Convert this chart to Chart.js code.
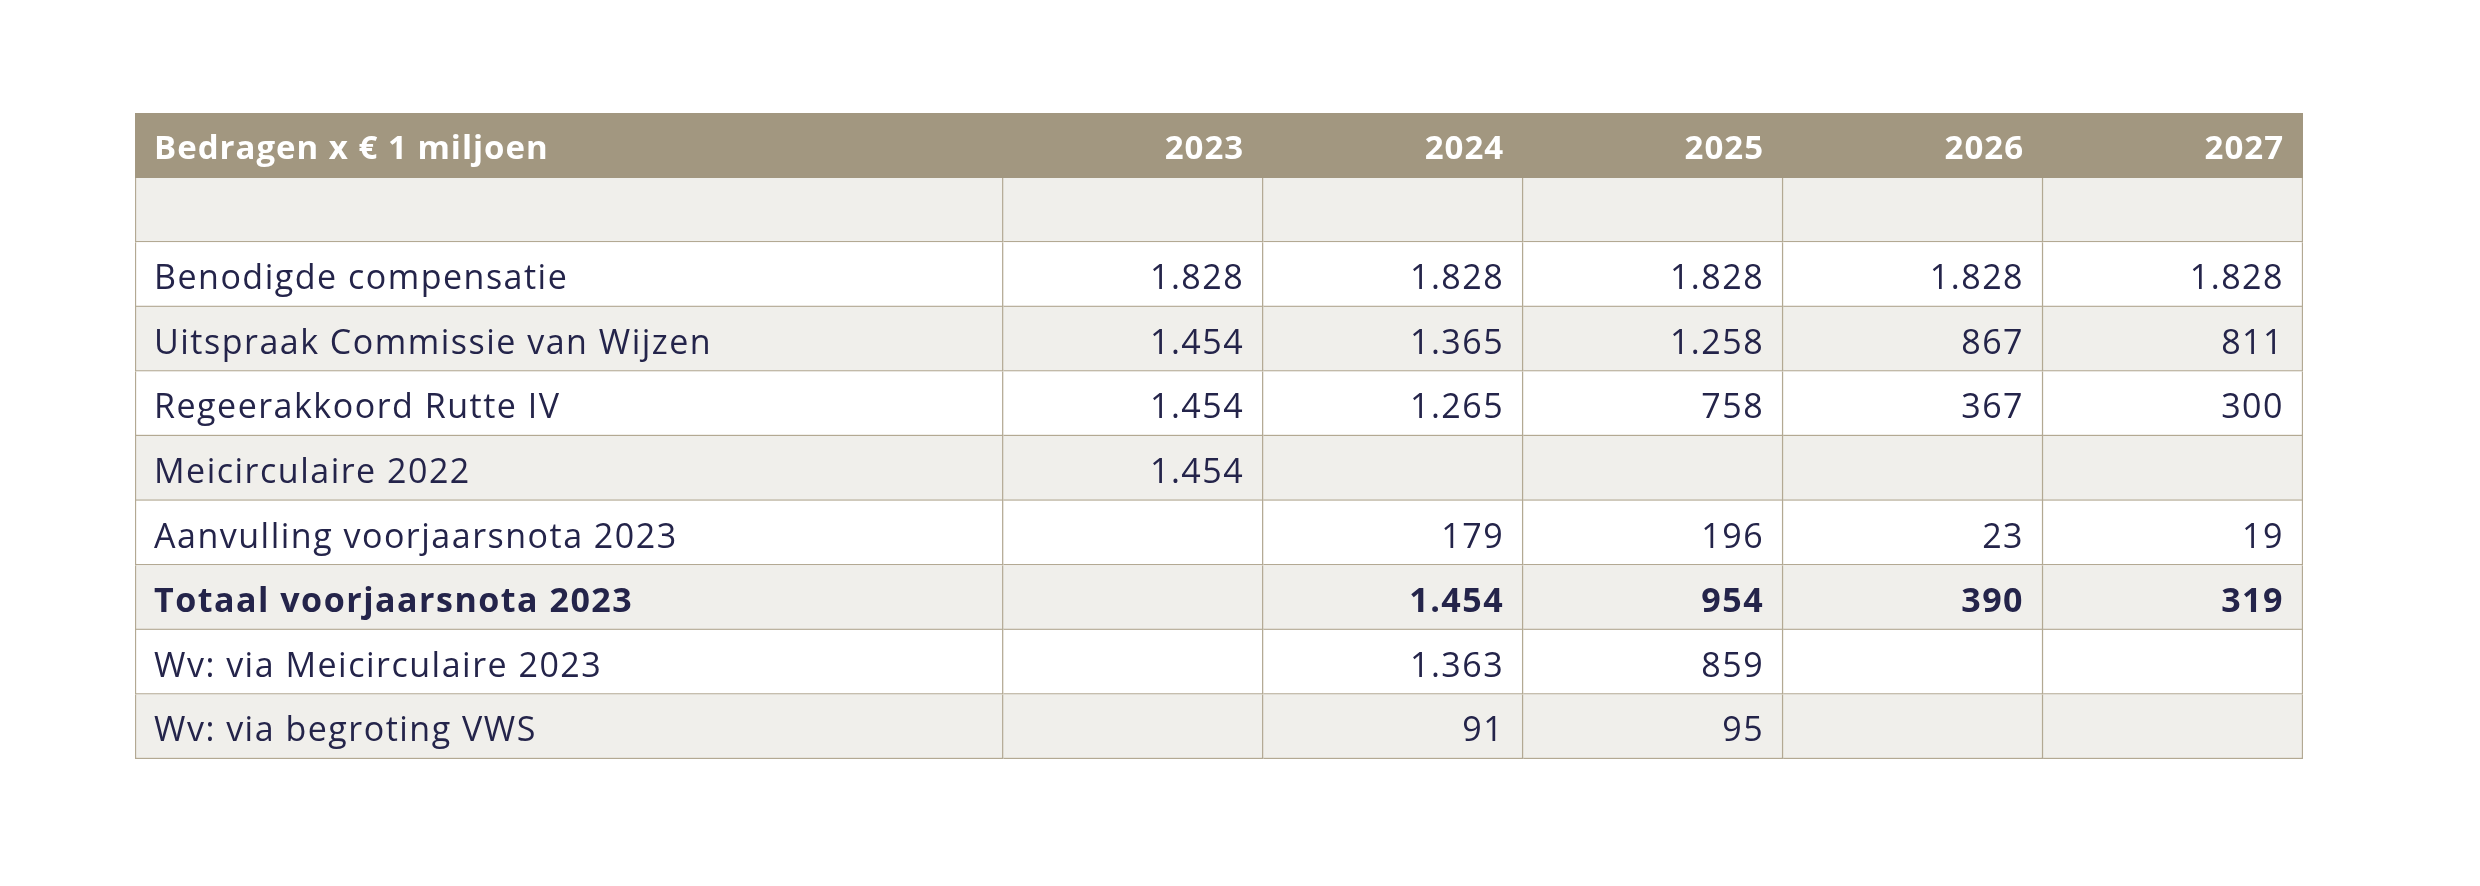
<!DOCTYPE html>
<html>
<head>
<meta charset="utf-8">
<script src="https://cdn.jsdelivr.net/npm/chart.js@4.4.0/dist/chart.umd.min.js"></script>
<style>
  html, body { margin: 0; padding: 0; background: #fff; }
  #wrap { width: 2480px; height: 886px; }
</style>
</head>
<body>
<div id="wrap"><canvas id="chart" width="2480" height="886"></canvas></div>
<script>
// Table data (amounts x EUR 1 million)
const title = 'Bedragen x € 1 miljoen';
const years = ['2023', '2024', '2025', '2026', '2027'];
const rowLabels = [
  '',
  'Benodigde compensatie',
  'Uitspraak Commissie van Wijzen',
  'Regeerakkoord Rutte IV',
  'Meicirculaire 2022',
  'Aanvulling voorjaarsnota 2023',
  'Totaal voorjaarsnota 2023',
  'Wv: via Meicirculaire 2023',
  'Wv: via begroting VWS'
];
const blankRow = [null, null, null, null, null];
const benodigde = [1828, 1828, 1828, 1828, 1828];
const uitspraak = [1454, 1365, 1258, 867, 811];
const regeerakkoord = [1454, 1265, 758, 367, 300];
const meicirculaire2022 = [1454, null, null, null, null];
const aanvulling = [null, 179, 196, 23, 19];
const totaal = [null, 1454, 954, 390, 319];
const wvMeicirculaire = [null, 1363, 859, null, null];
const wvBegroting = [null, 91, 95, null, null];
const rowValues = [blankRow, benodigde, uitspraak, regeerakkoord, meicirculaire2022,
  aanvulling, totaal, wvMeicirculaire, wvBegroting];
const boldRow = 'Totaal voorjaarsnota 2023';

// styling
const headerColor = '#a29780';
const stripeColor = '#f0efeb';
const lineColor = '#b3a993';
const textColor = '#24244a';
const fontFamily = '"Open Sans", sans-serif';
const fontSize = 34;
const headerFontSize = 33;
const lineWidth = 1.5;
const labelColWidth = 3.34; // width of first column, in year-column units

// y categories: header + table rows
const categories = [title].concat(rowLabels.map((l, i) => l || ' '.repeat(i + 1)));

function rowColor(i) {
  if (i === 0) return headerColor;
  return i % 2 === 1 ? stripeColor : '#ffffff';
}

function fmt(v) {
  return String(v).replace(/\B(?=(\d{3})+(?!\d))/g, '.');
}

// one dataset per column; every cell is a floating bar
const datasets = [];
datasets.push({
  label: 'header',
  data: categories.map((c, i) => i === 0 ? [-labelColWidth, years.length] : null),
  backgroundColor: headerColor,
  borderWidth: 0
});
datasets.push({
  label: 'labels',
  data: categories.map((c, i) => i === 0 ? null : [-labelColWidth, 0]),
  backgroundColor: ctx => rowColor(ctx.dataIndex),
  borderColor: lineColor,
  borderWidth: { top: 0, left: lineWidth, right: lineWidth, bottom: lineWidth }
});
years.forEach((yr, j) => {
  datasets.push({
    label: yr,
    data: categories.map((c, i) => i === 0 ? null : [j, j + 1]),
    backgroundColor: ctx => rowColor(ctx.dataIndex),
    borderColor: lineColor,
    borderWidth: { top: 0, left: 0, right: lineWidth, bottom: lineWidth }
  });
});
datasets.forEach(d => {
  d.grouped = false;
  d.barPercentage = 1;
  d.categoryPercentage = 1;
  d.borderSkipped = false;
});

// draws header texts and cell values on top of the bars
const cellText = {
  id: 'cellText',
  afterDatasetsDraw(chart) {
    const { ctx, scales: { x, y } } = chart;
    const left = x.getPixelForValue(-labelColWidth);
    ctx.save();
    // header
    let cy = y.getPixelForValue(0) + headerFontSize * 0.4;
    ctx.fillStyle = '#ffffff';
    ctx.letterSpacing = '1px';
    ctx.font = `bold ${headerFontSize}px ${fontFamily}`;
    ctx.textAlign = 'left';
    ctx.fillText(title, left + 19, cy);
    ctx.textAlign = 'right';
    years.forEach((yr, j) => ctx.fillText(yr, x.getPixelForValue(j + 1) - 19, cy));
    // body
    ctx.fillStyle = textColor;
    ctx.letterSpacing = '1.5px';
    rowLabels.forEach((lab, r) => {
      const yi = r + 1;
      cy = y.getPixelForValue(yi) + fontSize * 0.43;
      ctx.font = `${lab === boldRow ? 'bold ' : ''}${fontSize}px ${fontFamily}`;
      ctx.textAlign = 'left';
      ctx.fillText(lab, left + 19, cy);
      ctx.textAlign = 'right';
      rowValues[r].forEach((v, j) => {
        if (v !== null) ctx.fillText(fmt(v), x.getPixelForValue(j + 1) - 19, cy);
      });
    });
    ctx.restore();
  }
};

new Chart(document.getElementById('chart').getContext('2d'), {
  type: 'bar',
  data: { labels: categories, datasets: datasets },
  options: {
    indexAxis: 'y',
    responsive: false,
    animation: false,
    events: [],
    layout: { padding: { left: 135, right: 177, top: 113, bottom: 127 } },
    plugins: { legend: { display: false }, tooltip: { enabled: false } },
    scales: {
      x: { type: 'linear', display: false, min: -labelColWidth, max: years.length },
      y: { type: 'category', display: false, offset: true }
    }
  },
  plugins: [cellText]
});
</script>
</body>
</html>
